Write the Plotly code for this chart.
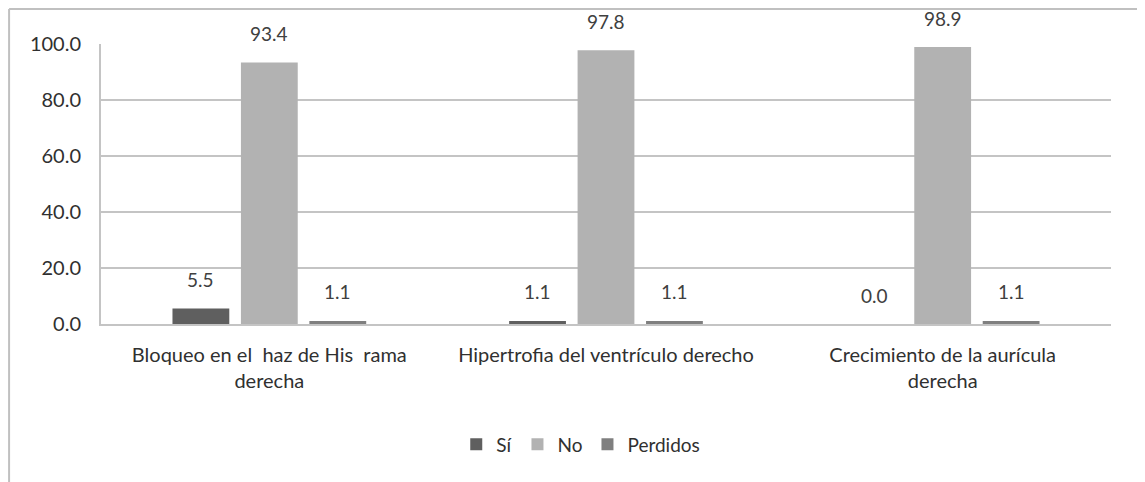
import plotly.graph_objects as go

categories = ["Bloqueo en el  haz de His  rama<br>derecha",
              "Hipertrofia del ventrículo derecho",
              "Crecimiento de la aurícula<br>derecha"]
si_vals = [5.5, 1.1, 0.0]
no_vals = [93.4, 97.8, 98.9]
perdidos_vals = [1.1, 1.1, 1.1]
series_names = ["Sí", "No", "Perdidos"]
tick_vals = [0, 20, 40, 60, 80, 100]

colors = ["#5f5f5f", "#b2b2b2", "#7f7f7f"]
FONT = "Lato, sans-serif"
SLOT = 68.5  # px width of one bar slot within a group

fig = go.Figure()
all_series = [si_vals, no_vals, perdidos_vals]
for name, vals, col in zip(series_names, all_series, colors):
    fig.add_trace(go.Bar(
        x=categories, y=vals, name=name, marker_color=col, marker_line_width=0,
        cliponaxis=False,
    ))

annotations = []
for i, vals in enumerate(all_series):
    for cat, v in zip(categories, vals):
        annotations.append(dict(
            x=cat, y=v, xref="x", yref="y", text=f"{v:.1f}", showarrow=False,
            xshift=(i - 1) * SLOT, yshift=29, yanchor="middle",
            font=dict(size=19, color="#404040", family=FONT),
        ))

fig.update_layout(
    width=1145, height=482,
    margin=dict(l=93, r=42, t=36, b=166),
    paper_bgcolor="white", plot_bgcolor="white",
    barmode="group", bargap=0.39, bargroupgap=0.17,
    font=dict(family=FONT, size=19, color="#303030"),
    showlegend=True,
    legend=dict(orientation="h", x=0.475, xanchor="center", y=-0.43, yanchor="middle",
                font=dict(size=19, color="#303030"), itemwidth=30,
                traceorder="normal"),
    xaxis=dict(showline=True, linecolor="#c4c4c4", linewidth=2, ticks="",
               ticklabelstandoff=12,
               tickfont=dict(size=20, color="#303030")),
    yaxis=dict(range=[0, 100], tickvals=tick_vals, tickformat=".1f",
               showgrid=True, gridcolor="#c4c4c4", gridwidth=2,
               showline=True, linecolor="#c4c4c4", linewidth=2,
               zeroline=False, ticks="", ticklabelstandoff=14,
               tickfont=dict(size=20, color="#303030")),
    annotations=annotations,
    shapes=[
        dict(type="line", xref="paper", yref="paper", x0=-0.091, x1=-0.091, y0=1.125, y1=-0.6,
             line=dict(color="#c0c0c0", width=2)),
        dict(type="line", xref="paper", yref="paper", x0=-0.091, x1=1.05, y0=1.125, y1=1.125,
             line=dict(color="#c0c0c0", width=2)),
    ],
)

fig.write_html("out.html")
